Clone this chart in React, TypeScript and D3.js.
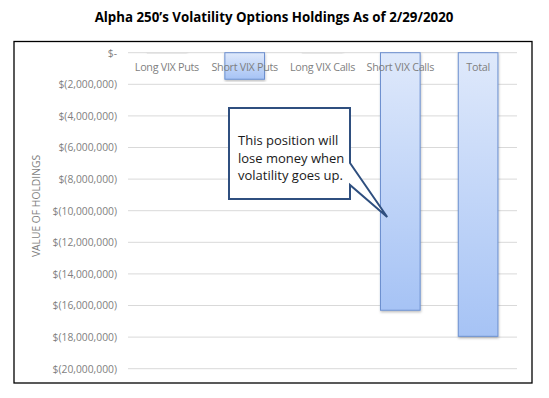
import React from "react";
import * as d3 from "d3";

const categories = ["Long VIX Puts", "Short VIX Puts", "Long VIX Calls", "Short VIX Calls", "Total"];
const values = [-30000, -1680000, -30000, -16300000, -17950000];
const yTicks = [0, -2000000, -4000000, -6000000, -8000000, -10000000, -12000000, -14000000, -16000000, -18000000, -20000000];
const title = "Alpha 250\u2019s Volatility Options Holdings As of 2/29/2020";
const yTitle = "VALUE OF HOLDINGS";
const calloutLines = ["This position will", "lose money when", "volatility goes up."];
const calloutTarget = { category: "Short VIX Calls", value: -10400000 };

const W = 549, H = 398;
const plot = { left: 128, right: 517, top: 52.7, bottom: 368.7 };

function fmt(v: number) {
  if (v === 0) return "$-";
  return "$(" + d3.format(",")(Math.abs(v)) + ")";
}

export default function App() {
  const x = d3.scaleBand<string>().domain(categories).range([plot.left, plot.right]).paddingInner(0.49).paddingOuter(0.245);
  const y = d3.scaleLinear().domain([0, -20000000]).range([plot.top, plot.bottom]);
  const bw = x.bandwidth();

  const tx = (x(calloutTarget.category) as number) + bw * 0.17;
  const ty = y(calloutTarget.value);
  const bx0 = 229, by0 = 108, bx1 = 350, by1 = 199;
  const calloutPath = `M${bx0},${by0} L${bx1},${by0} L${bx1},${163} L${tx},${ty} L${bx1},${185} L${bx1},${by1} L${bx0},${by1} Z`;

  return (
    <svg width={W} height={H} style={{ position: "absolute", left: 0, top: 0, background: "#fff" }}>
      <defs>
        <linearGradient id="barGrad" x1="0" y1="0" x2="0" y2="1">
          <stop offset="0" stopColor="#dfe9fb" />
          <stop offset="1" stopColor="#a6c3f5" />
        </linearGradient>
        <filter id="shadow" x="-20%" y="-5%" width="140%" height="115%">
          <feDropShadow dx="0.5" dy="1.5" stdDeviation="1" floodColor="#000" floodOpacity="0.25" />
        </filter>
      </defs>
      <text x={274} y={21.5} textAnchor="middle" fontFamily="'Open Sans', sans-serif" fontWeight="bold" fontSize={13.3} fill="#000">
        {title}
      </text>
      <rect x={14} y={41.5} width={518} height={341.5} fill="#fff" stroke="#000" strokeWidth={1.3} />
      {yTicks.map((t) => (
        <g key={t}>
          <line x1={plot.left} x2={plot.right} y1={y(t)} y2={y(t)} stroke="#d9d9d9" strokeWidth={1} />
          <text x={117} y={y(t) + 3.8} textAnchor="end" fontFamily="'Open Sans', sans-serif" fontSize={10.3} fill="#7f7f7f">
            {fmt(t)}
          </text>
        </g>
      ))}
      <text transform={`translate(40,${206}) rotate(-90)`} textAnchor="middle" fontFamily="'Open Sans', sans-serif" fontSize={10.3} fill="#7f7f7f">
        {yTitle}
      </text>
      {categories.map((c, i) => {
        const v = values[i];
        const y0 = y(0), y1 = y(v);
        const h = Math.max(1, y1 - y0);
        const tiny = Math.abs(v) < 100000;
        return (
          <rect key={c} x={x(c)} y={y0} width={bw} height={h}
            fill={tiny ? "#e6e6e6" : "url(#barGrad)"} stroke={tiny ? "#dcdcdc" : "#6b8fcf"} strokeWidth={tiny ? 0.5 : 1}
            filter="url(#shadow)" opacity={tiny ? 0.8 : 1} />
        );
      })}
      {categories.map((c) => (
        <text key={c} x={(x(c) as number) + bw / 2} y={71} textAnchor="middle" fontFamily="'Open Sans', sans-serif" fontSize={10.8} fill="#7f7f7f" letterSpacing={-0.3}>
          {c}
        </text>
      ))}
      <path d={calloutPath} fill="#fff" stroke="#2f4f7f" strokeWidth={2} strokeLinejoin="miter" />
      {calloutLines.map((l, i) => (
        <text key={i} x={238} y={145 + i * 17.5} fontFamily="'Open Sans', sans-serif" fontSize={13} fill="#1a1a1a">
          {l}
        </text>
      ))}
    </svg>
  );
}
